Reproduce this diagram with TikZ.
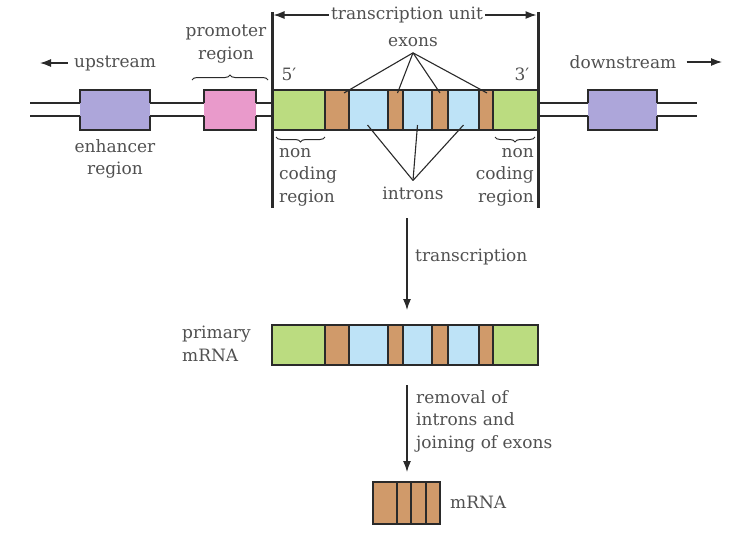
\documentclass[tikz,border=0pt]{standalone}
\usepackage{fontspec}
\setmainfont{DejaVu Serif}
\usetikzlibrary{positioning,arrows.meta,decorations.pathreplacing,calc}
\definecolor{ncgreen}{HTML}{BBDC80}
\definecolor{exbrown}{HTML}{D09A6A}
\definecolor{inblue}{HTML}{BEE3F7}
\definecolor{enhlav}{HTML}{ADA6DA}
\definecolor{prompink}{HTML}{E99ACB}
\definecolor{txtgray}{HTML}{505050}
\definecolor{ink}{HTML}{2A2A2A}

\begin{document}
\begin{tikzpicture}[x=1pt, y=-1pt,
    seg/.style={draw=ink, line width=1.4, inner sep=0, outer sep=0, minimum height=40},
    blk/.style={inner sep=0, outer sep=0, minimum height=40},
    lbl/.style={text=txtgray, font=\fontsize{17}{22.5}\selectfont, inner sep=2},
    arr/.style={ink, line width=1.2, -{Latex[length=11,width=8]}},
    ptr/.style={ink, line width=1.1},
    bar/.style={ink, line width=3},
    dna/.style={ink, line width=1.3},
    brc/.style={ink, line width=1, decorate, decoration={brace, amplitude=5}},
    brcm/.style={brc, decoration={brace, amplitude=5, mirror}}]
    \useasboundingbox (0,0) rectangle (750,542);

    % double strand
    \draw[dna] (30,103) -- (272,103);
    \draw[dna] (30,116) -- (272,116);
    \draw[dna] (538,103) -- (697,103);
    \draw[dna] (538,116) -- (697,116);

    % enhancer, promoter, downstream boxes
    \node[blk, fill=enhlav, minimum width=70] (enh) at (115,110) {};
    \node[blk, fill=prompink, minimum width=52] (prom) at (230,110) {};
    \node[blk, fill=enhlav, minimum width=69] (enh2) at (622.5,110) {};
    \draw[dna] (enh.west |- 0,103) |- (enh.north east) -- (enh.east |- 0,103);
    \draw[dna] (enh.west |- 0,116) |- (enh.south east) -- (enh.east |- 0,116);
    \draw[dna] (prom.west |- 0,103) |- (prom.north east) -- (prom.east |- 0,103);
    \draw[dna] (prom.west |- 0,116) |- (prom.south east) -- (prom.east |- 0,116);
    \draw[dna] (enh2.west |- 0,103) |- (enh2.north east) -- (enh2.east |- 0,103);
    \draw[dna] (enh2.west |- 0,116) |- (enh2.south east) -- (enh2.east |- 0,116);

    % gene
    \node[seg, fill=ncgreen, minimum width=53, anchor=west] (g1) at (272,110) {};
    \node[seg, fill=exbrown, minimum width=24, right=0pt of g1] (x1) {};
    \node[seg, fill=inblue, minimum width=39, right=0pt of x1] (n1) {};
    \node[seg, fill=exbrown, minimum width=15, right=0pt of n1] (x2) {};
    \node[seg, fill=inblue, minimum width=29, right=0pt of x2] (n2) {};
    \node[seg, fill=exbrown, minimum width=16, right=0pt of n2] (x3) {};
    \node[seg, fill=inblue, minimum width=31, right=0pt of x3] (n3) {};
    \node[seg, fill=exbrown, minimum width=14, right=0pt of n3] (x4) {};
    \node[seg, fill=ncgreen, minimum width=45, right=0pt of x4] (g2) {};

    % transcription unit
    \coordinate (lbar) at (272,12);
    \coordinate (rbar) at (538,12);
    \draw[bar] (lbar) -- (272,208);
    \draw[bar] (rbar) -- (538,208);
    \node[lbl] (tu) at (407,15) {transcription unit};
    \draw[arr] (tu.west) -- ($(tu.west -| lbar)+(1.5,0)$);
    \draw[arr] (tu.east) -- ($(tu.east -| rbar)+(-1.5,0)$);

    \node[lbl] (five) at (289,74) {5′};
    \node[lbl] (three) at (522,74) {3′};

    \node[lbl, inner sep=6] (ex) at (413,42) {exons};
    \draw[ptr] (ex.south) -- ($(x1.north)+(7,3)$);
    \draw[ptr] (ex.south) -- ($(x2.north)+(2,3)$);
    \draw[ptr] (ex.south) -- ($(x3.north)+(0,3)$);
    \draw[ptr] (ex.south) -- ($(x4.north)+(1,3)$);

    \node[lbl, inner sep=6] (in) at (413,193) {introns};
    \draw[ptr] (in.north) -- ($(n1.south)+(-1,-5)$);
    \draw[ptr] (in.north) -- ($(n2.south)+(0,-5)$);
    \draw[ptr] (in.north) -- ($(n3.south)+(0,-5)$);

    % side labels
    \node[lbl] (up) at (115,63) {upstream};
    \coordinate (upend) at (40,63);
    \draw[arr] ($(up.west)+(-4,0)$) -- (upend);
    \node[lbl] (down) at (623,62) {downstream};
    \coordinate (downend) at (722,62);
    \draw[arr] ($(down.east)+(8,0)$) -- (downend);

    \node[lbl, align=center] (enhl) at (115,159) {enhancer\\region};
    \node[lbl, align=center] (proml) at (226,44) {promoter\\region};
    \draw[brc] (192,80) -- (268,80);

    \draw[brcm] (276,137) -- (325,137);
    \node[lbl, align=left, anchor=west] (nc1) at (277,177) {non\\coding\\region};
    \draw[brcm] (495,137) -- (535,137);
    \node[lbl, align=right, anchor=east] (nc2) at (536,177) {non\\coding\\region};

    % transcription
    \coordinate (t1) at (407,218);
    \coordinate (t2) at (407,310);
    \draw[arr] (t1) -- (t2);
    \node[lbl, anchor=west] (trl) at (413,257) {transcription};

    % primary mRNA
    \node[seg, fill=ncgreen, minimum width=53, anchor=west] (pg1) at (272,345) {};
    \node[seg, fill=exbrown, minimum width=24, right=0pt of pg1] (px1) {};
    \node[seg, fill=inblue, minimum width=39, right=0pt of px1] (pn1) {};
    \node[seg, fill=exbrown, minimum width=15, right=0pt of pn1] (px2) {};
    \node[seg, fill=inblue, minimum width=29, right=0pt of px2] (pn2) {};
    \node[seg, fill=exbrown, minimum width=16, right=0pt of pn2] (px3) {};
    \node[seg, fill=inblue, minimum width=31, right=0pt of px3] (pn3) {};
    \node[seg, fill=exbrown, minimum width=14, right=0pt of pn3] (px4) {};
    \node[seg, fill=ncgreen, minimum width=45, right=0pt of px4] (pg2) {};
    \node[lbl, align=left, anchor=west] (priml) at (180,344) {primary\\mRNA};

    % splicing
    \coordinate (s1) at (407,385);
    \coordinate (s2) at (407,472);
    \draw[arr] (s1) -- (s2);
    \node[lbl, align=left, anchor=west] (rem) at (414,421) {removal of\\introns and\\joining of exons};

    % mature mRNA
    \node[seg, fill=exbrown, minimum width=24, minimum height=42, anchor=west] (m1) at (373,503) {};
    \node[seg, fill=exbrown, minimum width=14, minimum height=42, right=0pt of m1] (m2) {};
    \node[seg, fill=exbrown, minimum width=15, minimum height=42, right=0pt of m2] (m3) {};
    \node[seg, fill=exbrown, minimum width=14, minimum height=42, right=0pt of m3] (m4) {};
    \node[lbl, anchor=west] (ml) at (448,502) {mRNA};
\end{tikzpicture}
\end{document}
